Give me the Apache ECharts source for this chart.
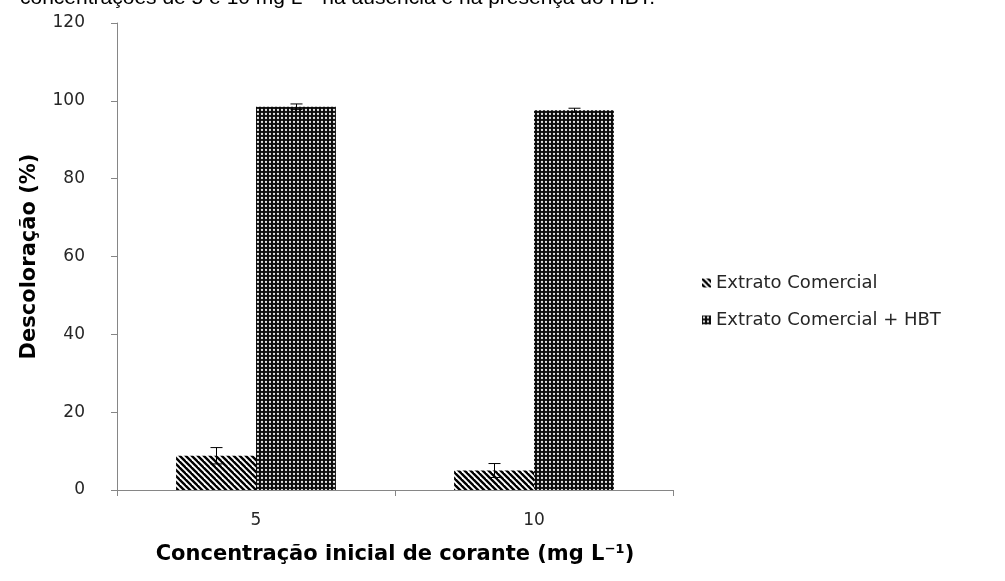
<!DOCTYPE html>
<html>
<head>
<meta charset="utf-8">
<script src="https://cdn.jsdelivr.net/npm/echarts@6/dist/echarts.min.js"></script>
<style>
  html, body { margin: 0; padding: 0; background: #fff; }
  #chart { width: 1005px; height: 581px; }
</style>
</head>
<body>
<div id="chart"></div>
<script>
// Initial dye concentration (mg L-1)
const categories = ['5', '10'];
// Decolorization (%) with the commercial extract alone
const extratoValues = [8.8, 5.0];
const extratoErrors = [2.1, 1.8];
// Decolorization (%) with the commercial extract + HBT mediator
const hbtValues = [98.5, 97.6];
const hbtErrors = [0.7, 0.5];
const yTicks = [0, 20, 40, 60, 80, 100, 120];

const seriesNames = ['Extrato Comercial', 'Extrato Comercial + HBT'];
const CATEGORY_GAP = 0.425;

// Hatch fill: diagonal black stripes
function stripePattern() {
  const c = document.createElement('canvas');
  c.width = 6; c.height = 6;
  const g = c.getContext('2d');
  g.fillStyle = '#fff';
  g.fillRect(0, 0, 6, 6);
  g.strokeStyle = '#000';
  g.lineWidth = 2.4;
  for (let k = -1; k <= 1; k++) {
    g.beginPath();
    g.moveTo(k * 6 - 1, -1);
    g.lineTo(k * 6 + 7, 7);
    g.stroke();
  }
  return c;
}

// Dense fill: black ground with small light dots
function dotPattern() {
  const c = document.createElement('canvas');
  c.width = 4; c.height = 4;
  const g = c.getContext('2d');
  g.fillStyle = '#0a0a0a';
  g.fillRect(0, 0, 4, 4);
  g.fillStyle = '#e6e6e6';
  g.beginPath();
  g.arc(2, 2, 1.15, 0, Math.PI * 2);
  g.fill();
  return c;
}

const stripeFill = { image: stripePattern(), repeat: 'repeat' };
const dotFill = { image: dotPattern(), repeat: 'repeat' };

function errorItems(values, errors) {
  return values.map((v, i) => [i, v, errors[i]]);
}

// Error bars drawn over the bars of one series (seriesIdx 0 = left, 1 = right)
function errorRenderer(seriesIdx) {
  return function (params, api) {
    const cat = api.value(0);
    const v = api.value(1);
    const e = api.value(2);
    const band = api.size([1, 0])[0];
    const barW = band * (1 - CATEGORY_GAP) / 2;
    const dx = (seriesIdx === 0 ? -0.5 : 0.5) * barW;
    const top = api.coord([cat, v + e]);
    const bot = api.coord([cat, v - e]);
    const x = Math.round(top[0] + dx) + 0.5;
    const half = 6;
    const style = { stroke: '#000', lineWidth: 1 };
    return {
      type: 'group',
      children: [
        { type: 'line', shape: { x1: x, y1: top[1], x2: x, y2: bot[1] }, style },
        { type: 'line', shape: { x1: x - half, y1: top[1], x2: x + half, y2: top[1] }, style },
        { type: 'line', shape: { x1: x - half, y1: bot[1], x2: x + half, y2: bot[1] }, style }
      ]
    };
  };
}

const chart = echarts.init(document.getElementById('chart'), null, { renderer: 'canvas' });

const axisLabelFont = { fontFamily: 'DejaVu Sans', fontSize: 17, color: '#262626' };
const axisNameFont = { fontFamily: 'DejaVu Sans', fontSize: 21, fontWeight: 'bold', color: '#000' };

chart.setOption({
  animation: false,
  backgroundColor: '#fff',
  graphic: [{
    type: 'text',
    left: 20,
    top: -12,
    style: {
      text: 'concentrações de 5 e 10 mg L⁻¹ na ausência e na presença do HBT.',
      font: '21px "Liberation Sans", Arial, sans-serif',
      fill: '#000'
    }
  }],
  grid: { left: 117, right: 332, top: 23, bottom: 91 },
  legend: {
    orient: 'vertical',
    left: 697,
    top: 269,
    itemWidth: 9,
    itemHeight: 9,
    itemGap: 19,
    icon: 'rect',
    data: seriesNames,
    textStyle: { fontFamily: 'DejaVu Sans', fontSize: 18, color: '#262626' }
  },
  xAxis: {
    type: 'category',
    data: categories,
    name: 'Concentração inicial de corante (mg L⁻¹)',
    nameLocation: 'middle',
    nameGap: 54,
    nameTextStyle: axisNameFont,
    axisLine: { lineStyle: { color: '#868686', width: 1 } },
    axisTick: { show: true, length: 6, lineStyle: { color: '#868686' } },
    axisLabel: Object.assign({ margin: 22 }, axisLabelFont)
  },
  yAxis: {
    type: 'value',
    min: yTicks[0],
    max: yTicks[yTicks.length - 1],
    interval: yTicks[1] - yTicks[0],
    name: 'Descoloração (%)',
    nameLocation: 'middle',
    nameGap: 77,
    nameRotate: 90,
    nameTextStyle: axisNameFont,
    axisLine: { show: true, lineStyle: { color: '#868686', width: 1 } },
    axisTick: { show: true, length: 6, lineStyle: { color: '#868686' } },
    splitLine: { show: false },
    axisLabel: Object.assign({ margin: 32 }, axisLabelFont)
  },
  series: [
    {
      name: seriesNames[0],
      type: 'bar',
      data: extratoValues,
      barGap: '0%',
      barCategoryGap: (CATEGORY_GAP * 100) + '%',
      itemStyle: { color: stripeFill }
    },
    {
      name: seriesNames[1],
      type: 'bar',
      data: hbtValues,
      barGap: '0%',
      barCategoryGap: (CATEGORY_GAP * 100) + '%',
      itemStyle: { color: dotFill }
    },
    {
      type: 'custom',
      renderItem: errorRenderer(0),
      data: errorItems(extratoValues, extratoErrors),
      encode: { x: 0, y: 1 },
      z: 10,
      silent: true
    },
    {
      type: 'custom',
      renderItem: errorRenderer(1),
      data: errorItems(hbtValues, hbtErrors),
      encode: { x: 0, y: 1 },
      z: 10,
      silent: true
    }
  ]
});
</script>
</body>
</html>
